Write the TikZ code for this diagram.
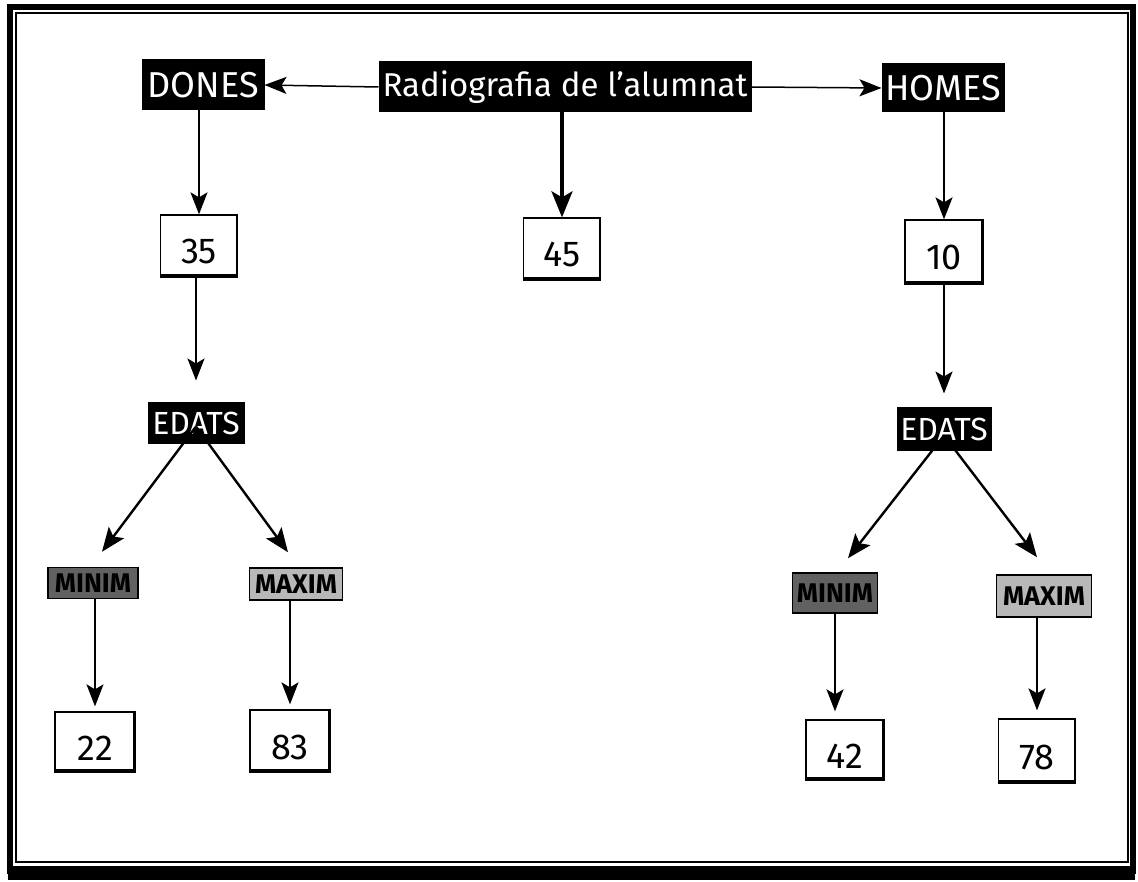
\documentclass[tikz,border=0pt]{standalone}
\usepackage{fontspec}
\setmainfont{Fira Sans}
\usetikzlibrary{arrows.meta}
\newcommand{\lownum}[1]{\raisebox{-19pt}[0pt][0pt]{#1}}
\begin{document}
\begin{tikzpicture}[x=1pt,y=-1pt,
  darkbox/.style={fill=black,text=white,inner sep=0pt,draw=black,line width=1pt},
  numbox/.style={draw=black,line width=1.3pt,fill=white,inner sep=0pt,font=\fontsize{36}{36}\selectfont},
  minbox/.style={draw=black,line width=1.5pt,fill=black!62,inner sep=0pt,font=\bfseries\fontsize{27}{27}\selectfont},
  maxbox/.style={draw=black,line width=1.5pt,fill=black!28,inner sep=0pt,font=\bfseries\fontsize{27}{27}\selectfont},
  arr/.style={-{Stealth[length=22pt,width=17pt,inset=5pt]},line width=1.5pt},
  diagarr/.style={-{Stealth[length=24pt,width=19pt,inset=5pt]},line width=2.4pt},
  bigarr/.style={-{Stealth[length=26pt,width=21pt,inset=6pt]},line width=3.4pt}]
\useasboundingbox (0,0) rectangle (1138,882);
\fill[white] (0,0) rectangle (1138,882);
% frame
\draw[line width=6pt] (10,7) rectangle (1133,871);
\fill (8,866) rectangle (1135,880);
\draw[line width=1.5pt] (16,13) rectangle (1128,862);
% top row
\node[darkbox,minimum width=372pt,minimum height=50pt,font=\fontsize{33}{33}\selectfont] (rad) at (565,87) {Radiografia de l'alumnat};
\node[darkbox,minimum width=122pt,minimum height=50pt,font=\fontsize{36}{36}\selectfont] (dones) at (203,85) {DONES};
\node[darkbox,minimum width=122pt,minimum height=48pt,font=\fontsize{36}{36}\selectfont] (homes) at (943,88) {HOMES};
% number boxes
\node[numbox,minimum width=77pt,minimum height=60pt] (n35) at (199,245) {\lownum{35}};
\node[numbox,minimum width=77pt,minimum height=60pt] (n45) at (562,248) {\lownum{45}};
\node[numbox,minimum width=78pt,minimum height=62pt] (n10) at (944,251) {\lownum{10}};
% edats
\node[darkbox,minimum width=96pt,minimum height=40pt,font=\fontsize{32}{32}\selectfont] (edL) at (196,423) {EDATS};
\node[darkbox,minimum width=94pt,minimum height=42pt,font=\fontsize{32}{32}\selectfont] (edR) at (944,429) {EDATS};
% min / max
\node[minbox,minimum width=90pt,minimum height=31pt] (minL) at (93,583) {MINIM};
\node[maxbox,minimum width=93pt,minimum height=32pt] (maxL) at (296,584) {MAXIM};
\node[minbox,minimum width=85pt,minimum height=40pt] (minR) at (835,593) {MINIM};
\node[maxbox,minimum width=95pt,minimum height=42pt] (maxR) at (1044,596) {MAXIM};
% bottom numbers
\node[numbox,minimum width=80pt,minimum height=58pt] (n22) at (95,741) {\lownum{22}};
\node[numbox,minimum width=80pt,minimum height=60pt] (n83) at (290,740) {\lownum{83}};
\node[numbox,minimum width=78pt,minimum height=58pt] (n42) at (845,749) {\lownum{42}};
\node[numbox,minimum width=77pt,minimum height=62pt] (n78) at (1037,750) {\lownum{78}};
% shadows on number boxes
\foreach \n in {n35,n45,n10,n22,n83,n42,n78}
  \draw[line width=2.6pt] ([xshift=-1pt]\n.north east) -- ([xshift=-1pt,yshift=-1pt]\n.south east) -- ([yshift=-1pt]\n.south west);
% connectors
\draw[arr] (rad.west) -- (dones.east);
\draw[arr] (rad.east) -- (homes.west);
\draw[bigarr] (rad.south -| n45.north) -- (n45.north);
\draw[arr] (dones.south -| n35.north) -- (n35.north);
\draw[arr] (homes.south -| n10.north) -- (n10.north);
\draw[arr,shorten >=22pt] (n35.south -| edL.north) -- (edL.north);
\draw[arr,shorten >=14pt] (n10.south -| edR.north) -- (edR.north);
\coordinate (apL) at ([yshift=17pt]edL.south);
\coordinate (apR) at ([yshift=15pt]edR.south);
\coordinate (tminL) at ([shift={(9,-15)}]minL.north);
\coordinate (tmaxL) at ([shift={(-8,-15)}]maxL.north);
\coordinate (tminR) at ([shift={(13,-14)}]minR.north);
\coordinate (tmaxR) at ([shift={(-7,-17)}]maxR.north);
\draw[diagarr] (apL) -- (tminL);
\draw[diagarr] (apL) -- (tmaxL);
\draw[diagarr] (apR) -- (tminR);
\draw[diagarr] (apR) -- (tmaxR);
\draw[arr,shorten >=5pt] (minL.south -| n22.north) -- (n22.north);
\draw[arr,shorten >=5pt] (maxL.south -| n83.north) -- (n83.north);
\draw[arr,shorten >=8pt,line width=2pt] (minR.south) -- (minR.south |- n42.north);
\draw[arr,shorten >=8pt,line width=2pt] (maxR.south -| n78.north) -- (n78.north);
\end{tikzpicture}
\end{document}
